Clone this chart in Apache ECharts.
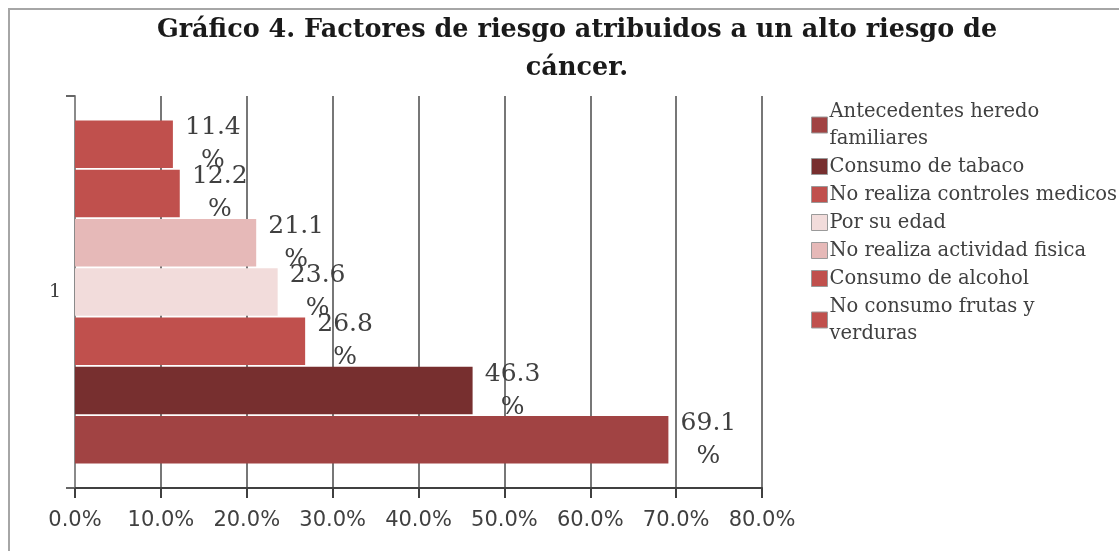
<!DOCTYPE html>
<html>
<head>
<meta charset="utf-8">
<script src="https://cdn.jsdelivr.net/npm/echarts@6/dist/echarts.min.js"></script>
<style>
  html, body { margin: 0; padding: 0; background: #fff; }
  #chart { width: 1119px; height: 551px; }
</style>
</head>
<body>
<div id="chart"></div>
<script>
// data (legend order)
const categories = ['1'];
const seriesNames = [
  'Antecedentes heredo familiares',
  'Consumo de tabaco',
  'No realiza controles medicos',
  'Por su edad',
  'No realiza actividad fisica',
  'Consumo de alcohol',
  'No consumo frutas y verduras'
];
const seriesValues = [69.1, 46.3, 26.8, 23.6, 21.1, 12.2, 11.4];
const xTicks = [0, 10, 20, 30, 40, 50, 60, 70, 80];

// colours of the bars, same order as the names
const barColors = ['#A14343', '#772F2F', '#C0504D', '#F2DCDB', '#E6B9B8', '#C0504D', '#C0504D'];

// legend labels wrapped like the original
const legendWrap = {
  'Antecedentes heredo familiares': 'Antecedentes heredo\nfamiliares',
  'No consumo frutas y verduras': 'No consumo frutas y\nverduras'
};

const chart = echarts.init(document.getElementById('chart'));

// echarts stacks horizontal bars top-down, so feed the series reversed
const series = seriesNames.map((name, i) => ({
  name: name,
  type: 'bar',
  data: [seriesValues[i]],
  barGap: '4%',
  barCategoryGap: '12.5%',
  itemStyle: { color: barColors[i] },
  label: {
    show: true,
    position: 'right',
    distance: 5,
    align: 'center',
    offset: [35, 0],
    formatter: p => p.value.toFixed(1) + '\n%',
    fontFamily: 'DejaVu Serif',
    fontSize: 25,
    lineHeight: 33,
    color: '#404040'
  }
})).reverse();

const option = {
  animation: false,
  backgroundColor: '#fff',
  // outer frame, only left and top edges show in the crop
  graphic: [
    {
      type: 'line',
      shape: { x1: 9, y1: 9, x2: 9, y2: 551 },
      style: { stroke: '#a6a6a6', lineWidth: 2 },
      silent: true
    },
    {
      type: 'line',
      shape: { x1: 8, y1: 9, x2: 1119, y2: 9 },
      style: { stroke: '#a6a6a6', lineWidth: 2 },
      silent: true
    }
  ],
  title: {
    text: 'Gráfico 4. Factores de riesgo atribuidos a un alto riesgo de\ncáncer.',
    left: 572,
    top: 6,
    textAlign: 'center',
    textStyle: {
      fontFamily: 'DejaVu Serif',
      fontWeight: 'bold',
      fontSize: 25.5,
      lineHeight: 38,
      color: '#1a1a1a'
    }
  },
  legend: {
    orient: 'vertical',
    left: 806,
    top: 93,
    itemWidth: 16,
    itemHeight: 16,
    itemGap: 1,
    icon: 'rect',
    itemStyle: { borderColor: '#9a9a9a', borderWidth: 1 },
    formatter: name => legendWrap[name] || name,
    textStyle: {
      fontFamily: 'DejaVu Serif',
      fontSize: 19.5,
      lineHeight: 27,
      color: '#404040',
      padding: [0, 0, 0, -3]
    },
    data: seriesNames
  },
  grid: {
    left: 75,
    right: 357,
    top: 96,
    bottom: 63,
    containLabel: false
  },
  xAxis: {
    type: 'value',
    min: xTicks[0],
    max: xTicks[xTicks.length - 1],
    interval: 10,
    axisLine: { show: true, lineStyle: { color: '#404040', width: 2 } },
    axisTick: { show: true, length: 10, lineStyle: { color: '#404040', width: 2 } },
    splitLine: { show: true, lineStyle: { color: '#777', width: 2 } },
    axisLabel: {
      formatter: v => v.toFixed(1) + '%',
      fontFamily: 'DejaVu Sans',
      fontSize: 21,
      color: '#404040',
      margin: 22
    }
  },
  yAxis: {
    type: 'category',
    data: categories,
    axisLine: { show: true, lineStyle: { color: '#8a8a8a', width: 2 } },
    axisTick: { show: true, length: 9, lineStyle: { color: '#666', width: 2 } },
    axisLabel: {
      fontFamily: 'DejaVu Serif',
      fontSize: 19,
      color: '#404040',
      margin: 14
    }
  },
  series: series
};

chart.setOption(option);
</script>
</body>
</html>
